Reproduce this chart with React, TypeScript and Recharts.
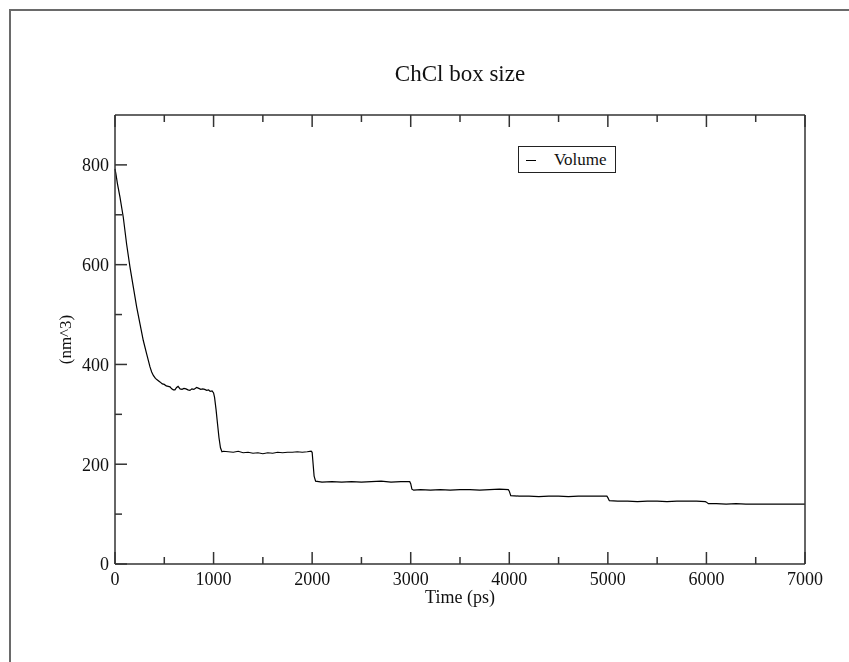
import { LineChart, Line, XAxis, YAxis } from 'recharts'

// Volume of the ChCl simulation box over time
const times = [
  0, 10, 25, 50, 84, 118, 152, 186, 220, 254, 287, 321, 355, 372, 389, 410, 430, 456, 480, 500,
  520, 540, 558, 575, 592, 608, 625, 640, 660, 680, 700, 720, 740, 760, 780, 800, 828, 850, 870, 890,
  910, 930, 950, 965, 985, 1000, 1010, 1025, 1040, 1055, 1070, 1085, 1100, 1150, 1200, 1250, 1300,
  1350, 1400, 1450, 1500, 1550, 1600, 1650, 1700, 1750, 1800, 1850, 1900, 1950, 1990, 2000, 2010,
  2020, 2035, 2100, 2200, 2300, 2400, 2500, 2600, 2700, 2800, 2900, 2990, 3000, 3012, 3030, 3100,
  3200, 3300, 3400, 3500, 3600, 3700, 3800, 3900, 3990, 4000, 4015, 4100, 4200, 4300, 4400, 4500,
  4600, 4700, 4800, 4900, 4990, 5000, 5015, 5100, 5200, 5300, 5400, 5500, 5600, 5700, 5800, 5900,
  5990, 6000, 6020, 6100, 6200, 6300, 6400, 6500, 6600, 6700, 6800, 6900, 7000,
]
const volumes = [
  792, 781, 762, 736, 695, 641, 595, 555, 515, 481, 448, 421, 395, 385, 378, 372, 369, 365, 361, 360,
  357, 356, 355, 351, 349, 349, 354, 356, 351, 350, 352, 351, 349, 348, 351, 350, 354, 352, 350, 351,
  350, 348, 349, 346, 347, 343, 334, 310, 281, 253, 233, 225, 226, 225, 224, 226, 223,
  224, 222, 223, 221, 223, 222, 224, 223, 224, 224, 225, 224, 225, 226, 224, 200,
  176, 166, 164, 165, 164, 165, 164, 165, 166, 164, 165, 165, 161, 150, 148, 149,
  148, 149, 148, 149, 149, 148, 149, 150, 149, 146, 137, 136, 136, 135, 136, 136,
  135, 136, 136, 136, 136, 133, 127, 126, 126, 125, 126, 126, 125, 126, 126, 126,
  125, 124, 121, 121, 120, 121, 120, 120, 120, 120, 120, 120, 120,
]

const xTicks = [0, 500, 1000, 1500, 2000, 2500, 3000, 3500, 4000, 4500, 5000, 5500, 6000, 6500, 7000]
const yTicks = [0, 100, 200, 300, 400, 500, 600, 700, 800]

const TITLE = 'ChCl box size'
const X_LABEL = 'Time (ps)'
const Y_LABEL = '(nm^3)'
const SERIES_NAME = 'Volume'

const FONT = 'Liberation Serif, DejaVu Serif, serif'
const AXIS = '#333'
const MAJOR = 12
const MINOR = 7
const textStyle = { fontFamily: FONT, fontSize: 18, fill: '#111' }

const data = times.map((t, i) => ({ time: t, volume: volumes[i] }))

function BottomTick({ x, y, payload }: any) {
  const major = payload.value % 1000 === 0
  return (
    <g>
      <line x1={x} x2={x} y1={y} y2={y - (major ? MAJOR : MINOR)} stroke={AXIS} strokeWidth={1.5} />
      {major && (
        <text x={x} y={y + 21} textAnchor="middle" style={textStyle}>
          {payload.value}
        </text>
      )}
    </g>
  )
}

function TopTick({ x, y, payload }: any) {
  const major = payload.value % 1000 === 0
  return <line x1={x} x2={x} y1={y} y2={y + (major ? MAJOR : MINOR)} stroke={AXIS} strokeWidth={1.5} />
}

function LeftTick({ x, y, payload }: any) {
  const major = payload.value % 200 === 0
  return (
    <g>
      <line x1={x} x2={x + (major ? MAJOR : MINOR)} y1={y} y2={y} stroke={AXIS} strokeWidth={1.5} />
      {major && (
        <text x={x - 6} y={y} dy="0.35em" textAnchor="end" style={textStyle}>
          {payload.value}
        </text>
      )}
    </g>
  )
}

function RightTick({ x, y, payload }: any) {
  const major = payload.value % 200 === 0
  return <line x1={x} x2={x - (major ? MAJOR : MINOR)} y1={y} y2={y} stroke={AXIS} strokeWidth={1.5} />
}

function YLabel({ viewBox }: any) {
  const cx = viewBox.x + 10
  const cy = viewBox.y + viewBox.height / 2
  return (
    <text x={cx} y={cy} transform={`rotate(-90 ${cx} ${cy})`} textAnchor="middle" dy="0.35em"
      style={{ ...textStyle, fontSize: 17 }}>
      {Y_LABEL}
    </text>
  )
}

export default function App() {
  return (
    <div style={{ position: 'relative', width: 833, height: 646, fontFamily: FONT }}>
      <div style={{ position: 'fixed', left: 9, top: 9, width: 1000, height: 1000, border: '2px solid #6a6a6a' }} />
      <div style={{ position: 'absolute', left: 107, top: 53, width: 690, textAlign: 'center', fontSize: 23, lineHeight: '26px', color: '#111' }}>
        {TITLE}
      </div>
      <LineChart width={833} height={646} data={data} margin={{ top: 106, right: 35, bottom: 50, left: 47 }}>
        <XAxis xAxisId="bottom" dataKey="time" type="number" domain={[0, 7000]} ticks={xTicks} interval={0}
          height={40} tickSize={0} tickMargin={0} tick={<BottomTick />} axisLine={{ stroke: AXIS, strokeWidth: 1.5 }}
          label={{ value: X_LABEL, position: 'insideBottom', offset: 1, style: { ...textStyle, fontSize: 18 } }} />
        <XAxis xAxisId="top" orientation="top" dataKey="time" type="number" domain={[0, 7000]} ticks={xTicks} interval={0}
          height={1} tickSize={0} tickMargin={0} tick={<TopTick />} axisLine={{ stroke: AXIS, strokeWidth: 1.5 }} />
        <YAxis yAxisId="left" type="number" domain={[0, 900]} ticks={yTicks} interval={0}
          width={60} tickSize={0} tickMargin={0} tick={<LeftTick />} axisLine={{ stroke: AXIS, strokeWidth: 1.5 }}
          label={<YLabel />} />
        <YAxis yAxisId="right" orientation="right" type="number" domain={[0, 900]} ticks={yTicks} interval={0}
          width={1} tickSize={0} tickMargin={0} tick={<RightTick />} axisLine={{ stroke: AXIS, strokeWidth: 1.5 }} />
        <Line xAxisId="bottom" yAxisId="left" dataKey="volume" name={SERIES_NAME} type="linear" stroke="#000"
          strokeWidth={1.2} dot={false} isAnimationActive={false} />
      </LineChart>
      <div style={{ position: 'absolute', left: 510, top: 138, width: 98, height: 27, boxSizing: 'border-box',
        border: '1.5px solid #222', background: '#fff', display: 'flex', alignItems: 'center' }}>
        <span style={{ display: 'inline-block', width: 10, height: 0, borderTop: '1.5px solid #000', marginLeft: 7, marginTop: 2 }} />
        <span style={{ marginLeft: 18, fontSize: 17, color: '#111' }}>{SERIES_NAME}</span>
      </div>
    </div>
  )
}
